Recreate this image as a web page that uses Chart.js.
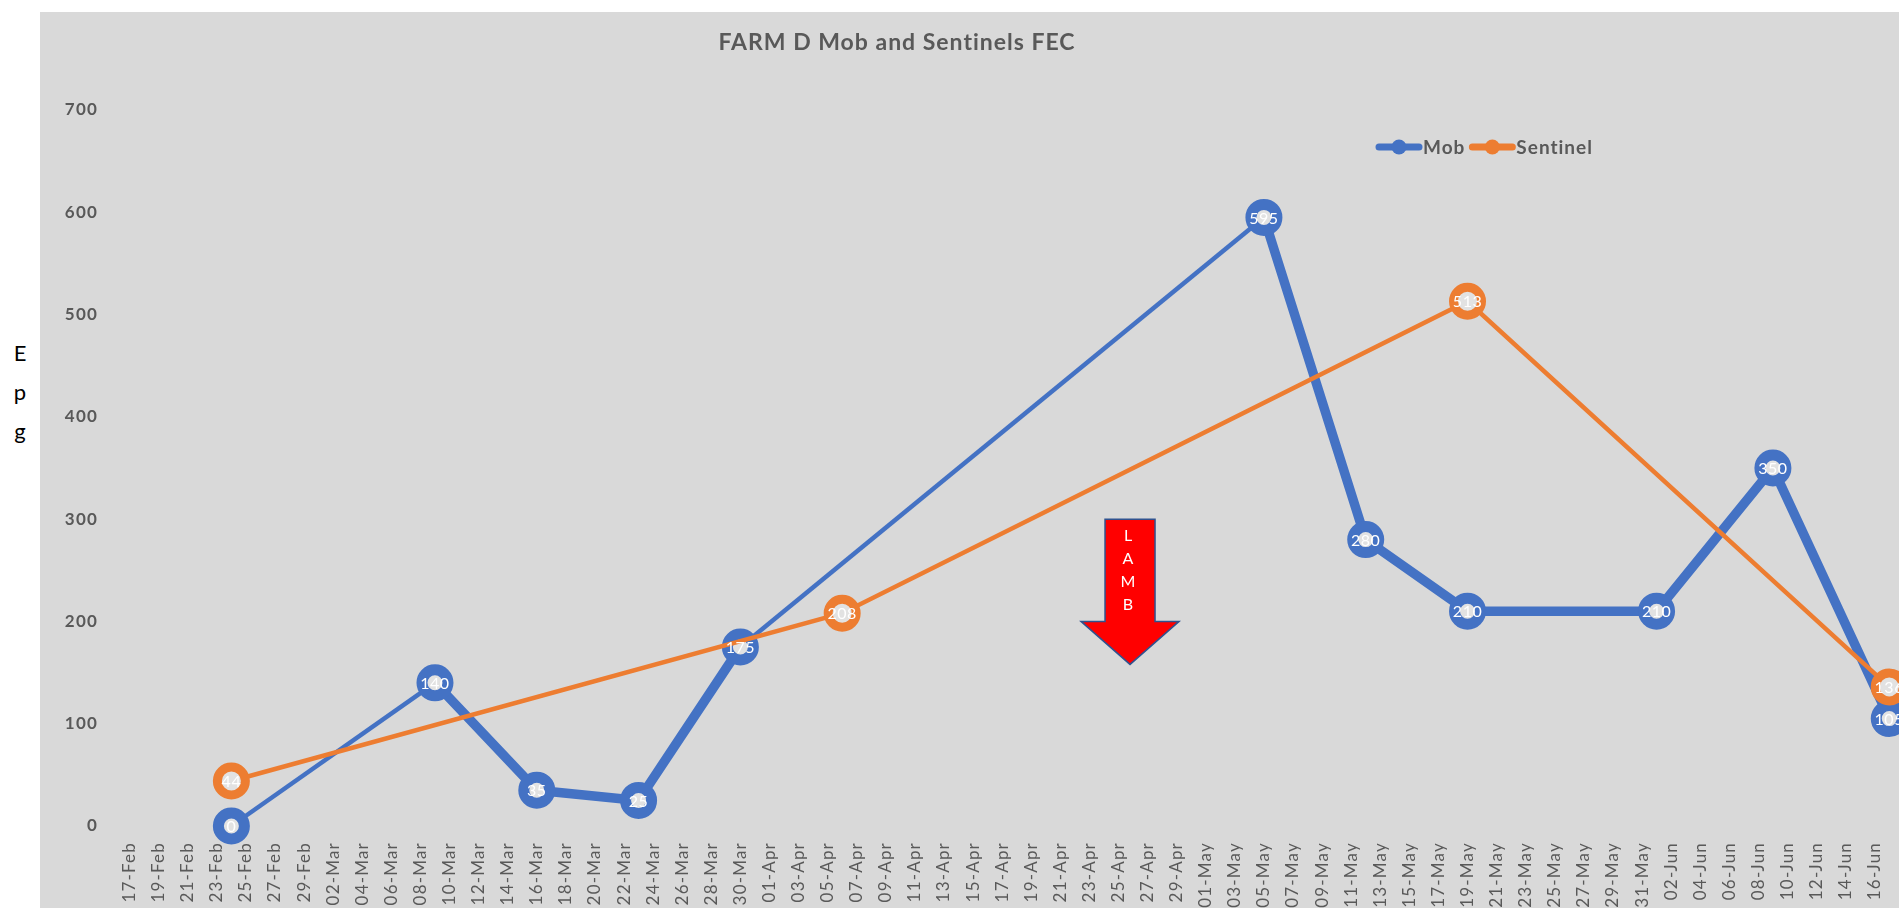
<!DOCTYPE html>
<html>
<head>
<meta charset="utf-8">
<title>FARM D Mob and Sentinels FEC</title>
<script src="https://cdn.jsdelivr.net/npm/chart.js@4.4.1/dist/chart.umd.min.js"></script>
<style>
  html, body { margin: 0; padding: 0; background: #fff; overflow: hidden; }
  #panel { position: absolute; left: 40px; top: 12px; width: 1859px; height: 896px; background: #d9d9d9; }
  #epg { position: absolute; left: 8px; top: 333px; width: 24px; text-align: center;
         font-family: Lato, sans-serif; font-size: 22px; line-height: 39px; color: #000; }
</style>
</head>
<body>
<div id="epg">E<br>p<br>g</div>
<div id="panel"><canvas id="chart"></canvas></div>
<script>
const chartTitle = 'FARM D Mob and Sentinels FEC';

// FEC sampling dates and results
const mobDates = ['2020-02-24', '2020-03-09', '2020-03-16', '2020-03-23', '2020-03-30',
                  '2020-05-05', '2020-05-12', '2020-05-19', '2020-06-01', '2020-06-09', '2020-06-17'];
const mobValues = [0, 140, 35, 25, 175, 595, 280, 210, 210, 350, 105];

const sentinelDates = ['2020-02-24', '2020-04-06', '2020-05-19', '2020-06-17'];
const sentinelValues = [44, 208, 513, 136];

const yTicks = [0, 100, 200, 300, 400, 500, 600, 700];
const firstTickDate = '2020-02-17';
const lastTickDate = '2020-06-16';
const monthNames = ['Jan', 'Feb', 'Mar', 'Apr', 'May', 'Jun', 'Jul', 'Aug', 'Sep', 'Oct', 'Nov', 'Dec'];

// lambing marker
const lambDate = '2020-04-26';
const lambText = ['L', 'A', 'M', 'B'];

const blue = '#4472c4';
const orange = '#ed7d31';
const grey = '#595959';
const DAY = 86400000;

function utc(s) {
    const p = s.split('-').map(Number);
    return Date.UTC(p[0], p[1] - 1, p[2]);
}
const base = utc(firstTickDate);
function dayOf(s) { return (utc(s) - base) / DAY; }
function dayLabel(v) {
    const d = new Date(base + v * DAY);
    return String(d.getUTCDate()).padStart(2, '0') + '-' + monthNames[d.getUTCMonth()];
}

let tickDays = [];
for (let d = dayOf(firstTickDate); d <= dayOf(lastTickDate); d += 2) tickDays.push(d);

function points(dates, values) {
    return dates.map((d, i) => ({ x: dayOf(d), y: values[i] }));
}

// wider letter spacing for the axis text, like the original
const spacing = {
    id: 'spacing',
    beforeDraw(chart) { chart.ctx.letterSpacing = '1.2px'; },
    beforeDatasetsDraw(chart) { chart.ctx.letterSpacing = '0px'; }
};

const valueLabels = {
    id: 'valueLabels',
    afterDatasetsDraw(chart) {
        const ctx = chart.ctx;
        ctx.save();
        ctx.font = '16px Lato, sans-serif';
        ctx.letterSpacing = '0.5px';
        ctx.fillStyle = '#ffffff';
        ctx.textAlign = 'center';
        ctx.textBaseline = 'middle';
        chart.data.datasets.forEach((ds, i) => {
            chart.getDatasetMeta(i).data.forEach((pt, j) => {
                ctx.fillText(String(ds.data[j].y), pt.x, pt.y + 1);
            });
        });
        ctx.restore();
    }
};

const lambArrow = {
    id: 'lambArrow',
    afterDatasetsDraw(chart) {
        const ctx = chart.ctx;
        const xs = chart.scales.x, ys = chart.scales.y;
        const x = xs.getPixelForValue(dayOf(lambDate)) - 3;
        const top = ys.getPixelForValue(300);
        const neck = ys.getPixelForValue(200);
        const tip = ys.getPixelForValue(158);
        ctx.save();
        ctx.beginPath();
        ctx.moveTo(x - 25, top);
        ctx.lineTo(x + 25, top);
        ctx.lineTo(x + 25, neck);
        ctx.lineTo(x + 49, neck);
        ctx.lineTo(x, tip);
        ctx.lineTo(x - 49, neck);
        ctx.lineTo(x - 25, neck);
        ctx.closePath();
        ctx.fillStyle = '#ff0000';
        ctx.fill();
        ctx.lineWidth = 1.5;
        ctx.strokeStyle = '#2f528f';
        ctx.stroke();
        ctx.fillStyle = '#ffffff';
        ctx.font = '16px Lato, sans-serif';
        ctx.textAlign = 'center';
        ctx.textBaseline = 'middle';
        lambText.forEach((ch, i) => ctx.fillText(ch, x - 2, top + 17 + i * 23));
        ctx.restore();
    }
};

const titleAndLegend = {
    id: 'titleAndLegend',
    afterDraw(chart) {
        const ctx = chart.ctx;
        ctx.save();
        ctx.letterSpacing = '1px';
        ctx.font = 'bold 23px Lato, sans-serif';
        ctx.fillStyle = grey;
        ctx.textAlign = 'center';
        ctx.textBaseline = 'middle';
        ctx.fillText(chartTitle, 857, 31);

        let x = 1336;
        const y = 135;
        ctx.font = 'bold 19px Lato, sans-serif';
        ctx.textAlign = 'left';
        [0, 1].forEach(i => {
            const ds = chart.data.datasets[i];
            ctx.strokeStyle = ds.borderColor;
            ctx.lineWidth = 7;
            ctx.lineCap = 'round';
            ctx.beginPath();
            ctx.moveTo(x + 3, y);
            ctx.lineTo(x + 43, y);
            ctx.stroke();
            ctx.fillStyle = ds.borderColor;
            ctx.beginPath();
            ctx.arc(x + 23, y, 7.5, 0, Math.PI * 2);
            ctx.fill();
            ctx.fillStyle = grey;
            ctx.fillText(ds.label, x + 47, y + 1);
            x += 47 + ctx.measureText(ds.label).width + 4;
        });
        ctx.restore();
    }
};

new Chart(document.getElementById('chart'), {
    type: 'line',
    data: {
        datasets: [{
            label: 'Mob',
            data: points(mobDates, mobValues),
            borderColor: blue,
            borderWidth: 9.5,
            segment: {
                borderWidth: c => (c.p1.parsed.x - c.p0.parsed.x >= 14 ? 4.5 : 9.5)
            },
            pointRadius: 13,
            pointHoverRadius: 13,
            pointBorderWidth: 11,
            pointBorderColor: blue,
            pointBackgroundColor: '#e2e2e2',
            borderJoinStyle: 'round',
            tension: 0,
            clip: false,
            order: 2
        }, {
            label: 'Sentinel',
            data: points(sentinelDates, sentinelValues),
            borderColor: orange,
            borderWidth: 4.5,
            pointRadius: 14,
            pointHoverRadius: 14,
            pointBorderWidth: 9,
            pointBorderColor: orange,
            pointBackgroundColor: '#e2e2e2',
            tension: 0,
            clip: false,
            order: 1
        }]
    },
    options: {
        responsive: true,
        maintainAspectRatio: false,
        animation: false,
        events: [],
        layout: { padding: { top: 98 }, autoPadding: false },
        plugins: {
            legend: { display: false },
            tooltip: { enabled: false },
            title: { display: false }
        },
        scales: {
            x: {
                type: 'linear',
                min: -1.14,
                max: 121.67,
                grid: { display: false, drawTicks: false },
                border: { display: false },
                afterBuildTicks: s => { s.ticks = tickDays.map(v => ({ value: v })); },
                afterFit: s => { s.height = 82; s.paddingLeft = 0; s.paddingRight = 0; },
                ticks: {
                    autoSkip: false,
                    minRotation: 90,
                    maxRotation: 90,
                    padding: 16,
                    color: grey,
                    font: { family: 'Lato, sans-serif', size: 17 },
                    callback: v => dayLabel(v)
                }
            },
            y: {
                min: 0,
                max: 700,
                grid: { display: false, drawTicks: false },
                border: { display: false },
                afterBuildTicks: s => { s.ticks = yTicks.map(v => ({ value: v })); },
                afterFit: s => { s.width = 73; s.paddingTop = 0; s.paddingBottom = 0; },
                ticks: {
                    padding: 15,
                    color: grey,
                    font: { family: 'Lato, sans-serif', size: 17, weight: 'bold' }
                }
            }
        }
    },
    plugins: [spacing, lambArrow, valueLabels, titleAndLegend]
});
</script>
</body>
</html>
